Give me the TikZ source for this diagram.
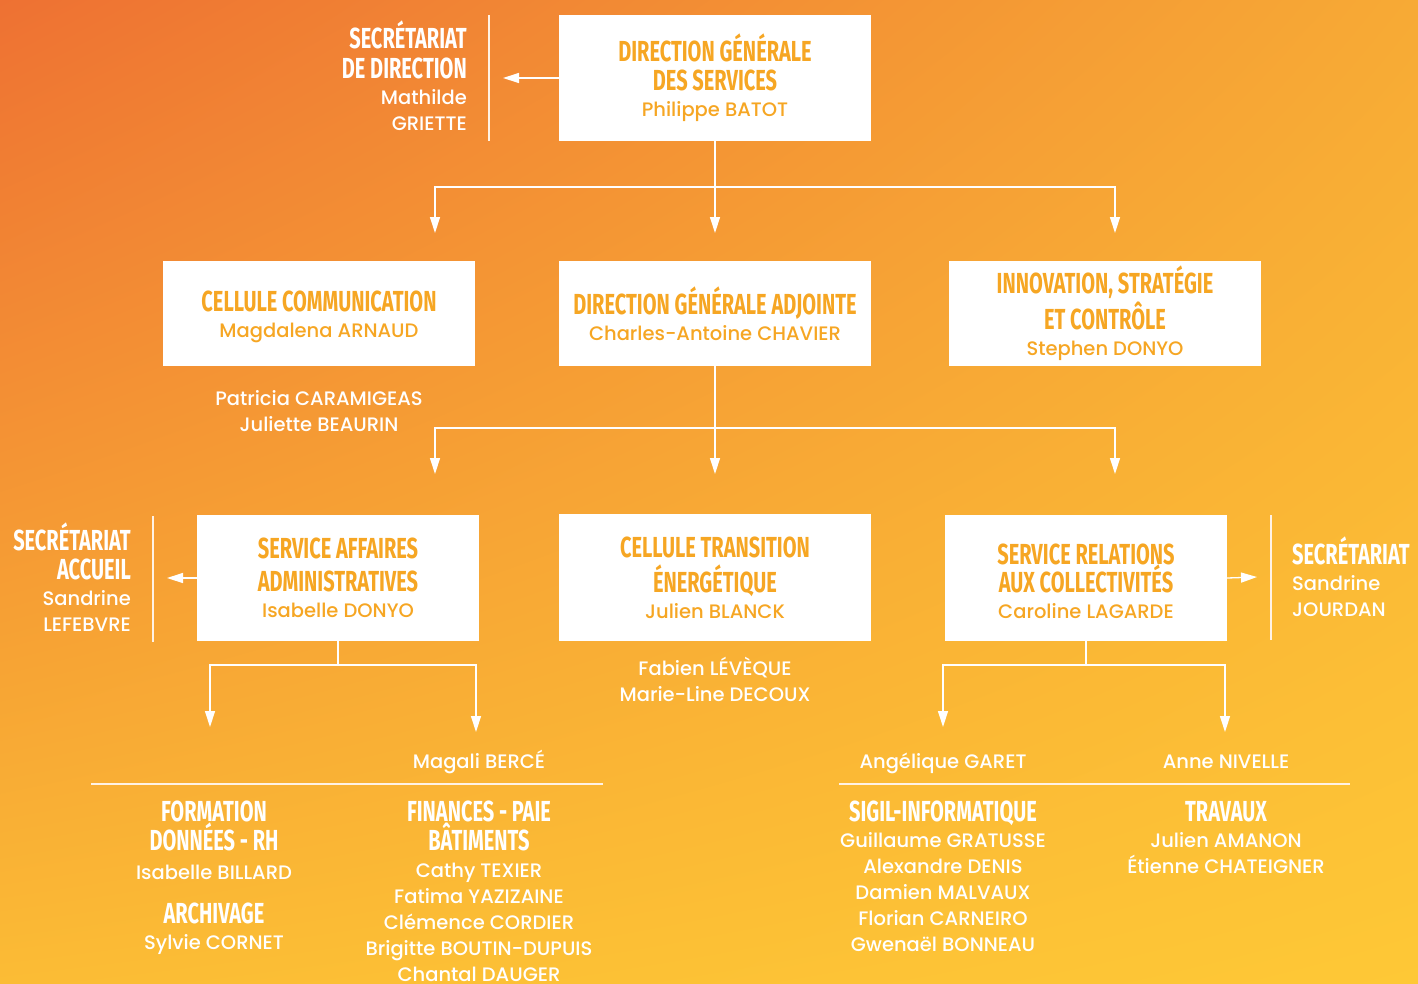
\documentclass[tikz,border=0pt]{standalone}
\usepackage{fontspec}
\setmainfont{Poppins}[UprightFont={* Medium}]
\newfontfamily\headfont[FakeStretch=0.69]{Fira Sans}
\usetikzlibrary{arrows.meta,shadings}

\definecolor{bgTL}{HTML}{EE7133}
\definecolor{bgTR}{HTML}{F7AA35}
\definecolor{bgBL}{HTML}{FBBC35}
\definecolor{bgBR}{HTML}{FEC836}
\definecolor{boxtext}{HTML}{F6A623}

\newcommand{\hd}[1]{{\headfont\bfseries\fontsize{29}{30}\selectfont #1}}

\begin{document}
\begin{tikzpicture}
		[%%%%%%%%%%%%%%%%%%%%%%%%%%%%%%
		x=1pt, y=-1pt,
		box/.style={rectangle, fill=white, inner sep=0pt, text=boxtext, align=center,
			font=\fontsize{19.5}{26}\selectfont},
		person/.style={text=white, inner sep=0pt, anchor=base,
			font=\fontsize{19.5}{26}\selectfont},
		unit/.style={text=white, inner sep=0pt, anchor=base},
		secr/.style={text=white, inner sep=0pt, font=\fontsize{19.5}{26}\selectfont},
		line/.style={draw=white, line width=1.3pt},
		arr/.style={line, -{Triangle[width=10pt,length=16pt]}},
		sep/.style={draw=white!90!orange, line width=1.5pt},
		]%%%%%%%%%%%%%%%%%%%%%%%%%%%%%%
		
		% background
		\shade[upper left=bgTL, upper right=bgTR, lower left=bgBL, lower right=bgBR]
			(0,0) rectangle (1418,983);
		\useasboundingbox (0,0) rectangle (1418,983);
		
		% level 1
		\node[box, minimum width=312, minimum height=126] (dgs) at (715,78)
			{\hd{DIRECTION GÉNÉRALE}\\[3pt]\hd{DES SERVICES}\\Philippe BATOT};
		\node[secr, align=right, anchor=east] (sdir) at (467,76)
			{\hd{SECRÉTARIAT}\\[4pt]\hd{DE DIRECTION}\\Mathilde\\GRIETTE};
		\draw[sep] (489,15) -- (489,141);
		\coordinate (sdirIn) at (503,78);
		\draw[arr] (dgs.west) -- (sdirIn);
		
		% level 2
		\node[box, minimum width=312, minimum height=105] (cc) at (319,313.5)
			{\hd{\vphantom{É}CELLULE COMMUNICATION}\\Magdalena ARNAUD};
		\node[box, minimum width=312, minimum height=105] (dga) at (715,313.5)
			{\hd{DIRECTION GÉNÉRALE ADJOINTE}\\Charles-Antoine CHAVIER};
		\node[box, minimum width=312, minimum height=105] (isc) at (1105,313.5)
			{\hd{INNOVATION, STRATÉGIE}\\[2pt]\hd{ET CONTRÔLE}\\Stephen DONYO};
		\node[person] (ccA) at (319,405) {Patricia CARAMIGEAS};
		\node[person] (ccB) at (319,431) {Juliette BEAURIN};
		
		\coordinate (j1) at (715,187);
		\coordinate (a1) at (435,233);
		\coordinate (a2) at (715,233);
		\coordinate (a3) at (1115,233);
		\draw[line] (dgs.south) -- (j1);
		\draw[arr] (j1) -| (a1);
		\draw[arr] (j1) -- (a2);
		\draw[arr] (j1) -| (a3);
		
		% level 3
		\node[box, minimum width=282, minimum height=126] (saa) at (338,578)
			{\hd{SERVICE AFFAIRES}\\[7pt]\hd{ADMINISTRATIVES}\\Isabelle DONYO};
		\node[box, minimum width=312, minimum height=127] (cte) at (715,577.5)
			{\hd{CELLULE TRANSITION}\\[6pt]\hd{ÉNERGÉTIQUE}\\Julien BLANCK};
		\node[box, minimum width=282, minimum height=126] (src) at (1086,578)
			{\hd{\vphantom{É}SERVICE RELATIONS}\\[-1pt]\hd{AUX COLLECTIVITÉS}\\Caroline LAGARDE};
		\node[person] (cteA) at (715,675) {Fabien LÉVÈQUE};
		\node[person] (cteB) at (715,701) {Marie-Line DECOUX};
		
		\node[secr, align=right, anchor=east] (sacc) at (131,577)
			{\hd{SECRÉTARIAT}\\[3pt]\hd{ACCUEIL}\\Sandrine\\LEFEBVRE};
		\draw[sep] (153,516) -- (153,642);
		\coordinate (saccIn) at (167,578);
		\draw[arr] (saa.west) -- (saccIn);
		
		\node[secr, align=left, anchor=west] (sjou) at (1292,577)
			{\hd{SECRÉTARIAT}\\Sandrine\\JOURDAN};
		\draw[sep] (1271,515) -- (1271,640);
		\coordinate (sjouIn) at (1257,577);
		\draw[arr] (src.east) -- (sjouIn);
		
		\coordinate (j2) at (715,428);
		\coordinate (b1) at (435,474);
		\coordinate (b2) at (715,474);
		\coordinate (b3) at (1115,474);
		\draw[line] (dga.south) -- (j2);
		\draw[arr] (j2) -| (b1);
		\draw[arr] (j2) -- (b2);
		\draw[arr] (j2) -| (b3);
		
		% level 4, left
		\coordinate (j3) at (338,665);
		\coordinate (c1) at (210,727);
		\coordinate (c2) at (476,732);
		\draw[line] (saa.south) -- (j3);
		\draw[arr] (j3) -| (c1);
		\draw[arr] (j3) -| (c2);
		\node[person] (finHead) at (479,768) {Magali BERCÉ};
		\draw[sep] (91,784) -- (603,784);
		
		\node[unit] (form1) at (214,821) {\hd{FORMATION}};
		\node[unit] (form2) at (214,850) {\hd{DONNÉES - RH}};
		\node[person] (form3) at (214,879) {Isabelle BILLARD};
		\node[unit] (arch1) at (214,923) {\hd{ARCHIVAGE}};
		\node[person] (arch2) at (214,949) {Sylvie CORNET};
		
		\node[unit] (fin1) at (479,821) {\hd{FINANCES - PAIE}};
		\node[unit] (fin2) at (479,850) {\hd{BÂTIMENTS}};
		\foreach \who [count=\i] in {Cathy TEXIER, Fatima YAZIZAINE, Clémence CORDIER,
			Brigitte BOUTIN-DUPUIS, Chantal DAUGER}
			\node[person] (finP\i) at (479,851+26*\i) {\who};
		
		% level 4, right
		\coordinate (j4) at (1086,665);
		\coordinate (d1) at (943,727);
		\coordinate (d2) at (1225,732);
		\draw[line] (src.south) -- (j4);
		\draw[arr] (j4) -| (d1);
		\draw[arr] (j4) -| (d2);
		\node[person] (sigHead) at (943,768) {Angélique GARET};
		\node[person] (trvHead) at (1226,768) {Anne NIVELLE};
		\draw[sep] (839,784) -- (1350,784);
		
		\node[unit] (sig) at (943,821) {\hd{SIGIL-INFORMATIQUE}};
		\foreach \who [count=\i] in {Guillaume GRATUSSE, Alexandre DENIS, Damien MALVAUX,
			Florian CARNEIRO, Gwenaël BONNEAU}
			\node[person] (sigP\i) at (943,821+26*\i) {\who};
		
		\node[unit] (trv) at (1226,821) {\hd{TRAVAUX}};
		\foreach \who [count=\i] in {Julien AMANON, Étienne CHATEIGNER}
			\node[person] (trvP\i) at (1226,821+26*\i) {\who};
\end{tikzpicture}
\end{document}
